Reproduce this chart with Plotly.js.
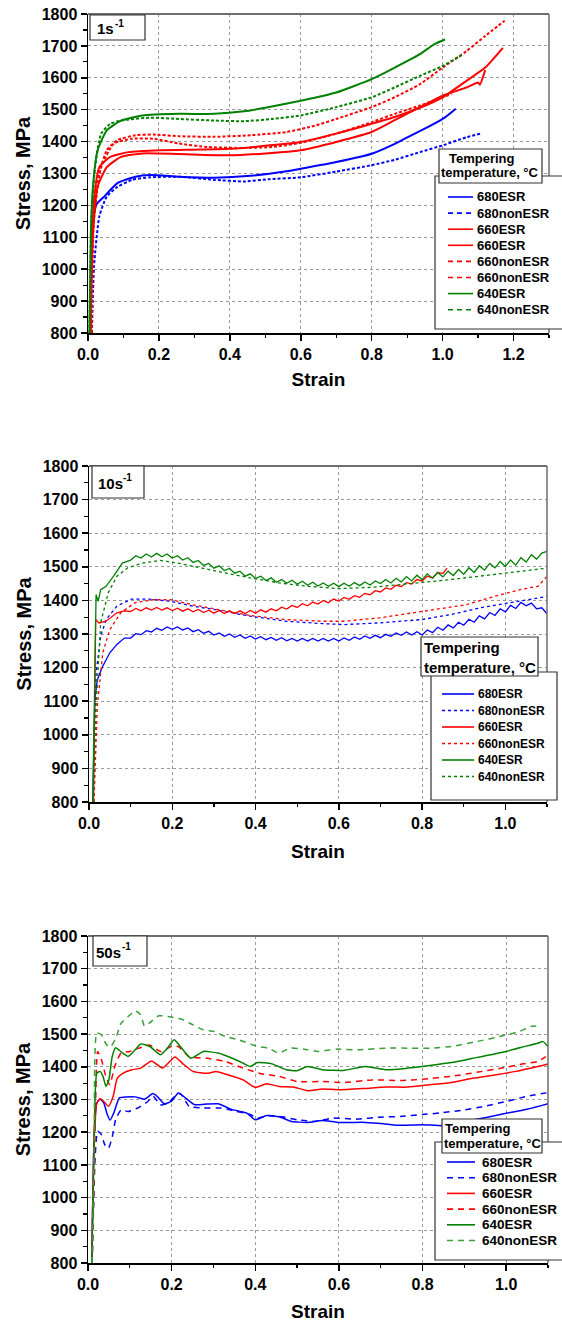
<!DOCTYPE html>
<html><head><meta charset="utf-8">
<script src="https://cdn.plot.ly/plotly-3.0.1.min.js"></script>
<style>html,body{margin:0;padding:0;background:#fff}#chart{width:562px;height:1323px}</style>
</head><body><div id="chart"></div>
<script>
// ================= DATA =================
// ---- Panel 1: strain rate 1 s^-1 ----
const names1 = ['680ESR','680nonESR','660ESR','660ESR','660nonESR','660nonESR','640ESR','640nonESR'];
const strain1_680ESR = [0.007,0.014,0.025,0.043,0.083,0.134,0.175,0.256,0.357,0.459,0.56,0.6,0.7,0.8,0.865,0.9,0.966,1.007,1.037];
const stress1_680ESR = [800,1163,1205,1225,1270,1290,1295,1290,1287,1293,1307,1315,1336,1362,1393,1413,1450,1476,1503];
const strain1_680non = [0.011,0.017,0.032,0.053,0.083,0.124,0.175,0.256,0.357,0.44,0.51,0.6,0.7,0.8,0.865,0.936,1.0,1.068,1.107];
const stress1_680non = [800,1010,1166,1228,1258,1280,1288,1290,1280,1275,1282,1288,1306,1326,1343,1367,1388,1414,1425];
const strain1_660ESRa = [0.007,0.014,0.027,0.053,0.093,0.154,0.256,0.398,0.5,0.6,0.7,0.8,0.865,0.936,1.0,1.068,1.1,1.105,1.12];
const stress1_660ESRa = [800,1111,1258,1320,1352,1363,1361,1357,1363,1373,1399,1430,1467,1508,1544,1570,1585,1578,1624];
const strain1_660ESRb = [0.007,0.01,0.017,0.032,0.063,0.114,0.205,0.317,0.418,0.52,0.6,0.7,0.8,0.865,0.936,1.0,1.068,1.12,1.17];
const stress1_660ESRb = [800,1010,1218,1320,1352,1367,1373,1375,1378,1389,1399,1425,1456,1477,1506,1539,1591,1632,1694];
const strain1_660nonA = [0.01,0.014,0.032,0.053,0.083,0.134,0.185,0.256,0.357,0.459,0.56,0.64,0.7,0.8,0.865,0.936,1.0,1.068,1.12,1.175];
const stress1_660nonA = [800,1111,1300,1373,1405,1420,1422,1417,1415,1420,1430,1450,1471,1508,1539,1580,1632,1684,1731,1779];
const strain1_660nonB = [0.01,0.017,0.037,0.073,0.124,0.185,0.256,0.337,0.44,0.52,0.6,0.7,0.8,0.865,0.936,1.025];
const stress1_660nonB = [800,1166,1320,1394,1409,1409,1394,1383,1380,1383,1396,1425,1461,1487,1513,1549];
const strain1_640ESR = [0.004,0.008,0.014,0.027,0.053,0.093,0.154,0.256,0.357,0.44,0.5,0.6,0.7,0.8,0.865,0.936,0.976,1.007];
const stress1_640ESR = [800,1111,1259,1373,1435,1466,1482,1487,1487,1495,1506,1528,1554,1596,1632,1674,1705,1720];
const strain1_640non = [0.004,0.01,0.02,0.037,0.063,0.104,0.175,0.256,0.357,0.44,0.52,0.6,0.7,0.8,0.865,0.936,1.0,1.058];
const stress1_640non = [800,1166,1320,1425,1456,1468,1475,1471,1466,1464,1471,1482,1508,1539,1570,1606,1637,1674];

// ---- Panel 2: strain rate 10 s^-1 (serrated flow) ----
const names2 = ['680ESR','680nonESR','660ESR','660nonESR','640ESR','640nonESR'];
const strainGrid2 = [0.1,0.1125,0.125,0.1375,0.15,0.1625,0.175,0.1875,0.2,0.2125,0.225,0.2375,0.25,0.2625,0.275,0.2875,
  0.3,0.3125,0.325,0.3375,0.35,0.3625,0.375,0.3875,0.4,0.4125,0.425,0.4375,0.45,0.4625,0.475,0.4875,
  0.5,0.5125,0.525,0.5375,0.55,0.5625,0.575,0.5875,0.6,0.6125,0.625,0.6375,0.65,0.6625,0.675,0.6875,
  0.7,0.7125,0.725,0.7375,0.75,0.7625,0.775,0.7875,0.8,0.8125,0.825,0.8375,0.85,0.8625,0.875,0.8875,
  0.9,0.9125,0.925,0.9375,0.95,0.9625,0.975,0.9875,1.0,1.0125,1.025,1.0375,1.05,1.0625,1.075,1.0875,1.1];
const strain2_680ESR_rise = [0.009,0.014,0.02,0.033,0.05,0.067,0.085];
const stress2_680ESR_rise = [800,1105,1164,1204,1244,1269,1288];
const stress2_680ESR_serr = [1288,1301,1298,1310,1306,1317,1311,1321,1314,1321,1312,1318,1307,1313,1302,1308,
  1297,1303,1293,1300,1290,1297,1287,1294,1285,1292,1283,1290,1281,1289,1280,1287,
  1279,1287,1279,1287,1279,1287,1279,1287,1279,1288,1281,1291,1284,1294,1287,1296,
  1289,1299,1293,1303,1296,1306,1297,1307,1297,1312,1304,1320,1311,1327,1318,1335,
  1326,1344,1335,1354,1345,1364,1355,1375,1366,1385,1376,1394,1384,1392,1375,1378,1360];
const strain2_680non = [0.011,0.017,0.028,0.041,0.067,0.102,0.145,0.197,0.249,0.3,0.387,0.473,0.56,0.611,0.698,0.8,0.87,0.94,1.0,1.06,1.1];
const stress2_680non = [800,1184,1293,1343,1383,1404,1404,1397,1383,1373,1353,1338,1331,1328,1333,1343,1358,1378,1391,1404,1412];
const strain2_660ESR_rise = [0.011,0.016,0.024,0.041,0.067,0.085];
const stress2_660ESR_rise = [800,1343,1333,1338,1363,1369];
const stress2_660ESR_serr = [1367,1376,1369,1378,1371,1379,1371,1378,1370,1377,1368,1375,1366,1373,1364,1371,
  1362,1370,1361,1369,1361,1369,1361,1370,1362,1372,1365,1375,1369,1380,1374,1385,
  1379,1390,1384,1395,1389,1400,1393,1404,1398,1409,1403,1414,1409,1421,1417,1429,
  1425,1437,1433,1445,1441,1453,1449,1462,1458,1472,1467,1483,1480];
const strain2_660ESR_end = [0.86];
const stress2_660ESR_end = [1496];
const strain2_660non = [0.012,0.02,0.033,0.05,0.076,0.11,0.154,0.197,0.249,0.318,0.387,0.473,0.56,0.611,0.698,0.767,0.836,0.905,0.974,1.035,1.078,1.1];
const stress2_660non = [800,1085,1244,1313,1363,1393,1402,1402,1387,1370,1355,1343,1338,1338,1348,1361,1373,1387,1412,1432,1442,1471];
const strain2_640ESR_rise = [0.009,0.017,0.022,0.028,0.041,0.059,0.08];
const stress2_640ESR_rise = [800,1417,1397,1432,1442,1472,1511];
const stress2_640ESR_serr = [1520,1533,1526,1538,1529,1540,1530,1538,1526,1533,1520,1527,1513,1519,1504,1510,
  1496,1503,1489,1495,1481,1487,1472,1479,1465,1472,1459,1467,1454,1462,1451,1460,
  1448,1457,1445,1454,1443,1452,1442,1451,1441,1451,1442,1453,1444,1455,1446,1458,
  1450,1462,1452,1466,1455,1471,1458,1475,1462,1479,1466,1483,1470,1487,1474,1492,
  1478,1497,1483,1503,1490,1510,1497,1516,1501,1520,1505,1527,1514,1536,1523,1541,1546];
const strain2_640non = [0.01,0.017,0.028,0.046,0.067,0.093,0.128,0.171,0.214,0.266,0.318,0.387,0.456,0.525,0.6,0.68,0.75,0.8,0.862,0.931,1.0,1.06,1.1];
const stress2_640non = [800,1085,1333,1422,1472,1497,1511,1519,1511,1497,1484,1467,1452,1442,1435,1439,1447,1453,1461,1471,1481,1489,1496];

// ---- Panel 3: strain rate 50 s^-1 ----
const names3 = ['680ESR','680nonESR','660ESR','660nonESR','640ESR','640nonESR'];
const strain3_680ESR = [0.009,0.015,0.021,0.029,0.038,0.046,0.053,0.062,0.075,0.092,0.113,0.135,0.155,0.165,0.182,0.199,0.216,0.233,0.255,0.285,0.311,0.345,0.379,0.4,0.427,0.457,0.487,0.525,0.56,0.6,0.663,0.706,0.74,0.8,0.852,0.903,0.955,1.0,1.05,1.1];
const stress3_680ESR = [800,1197,1289,1301,1289,1254,1237,1260,1305,1308,1308,1301,1318,1310,1287,1294,1320,1305,1284,1286,1287,1269,1259,1238,1251,1247,1233,1230,1236,1230,1230,1226,1221,1223,1220,1233,1246,1258,1270,1287];
const strain3_680non = [0.01,0.017,0.023,0.032,0.04,0.049,0.058,0.066,0.079,0.096,0.122,0.143,0.156,0.173,0.19,0.208,0.221,0.242,0.276,0.319,0.354,0.388,0.405,0.431,0.465,0.5,0.543,0.585,0.645,0.697,0.747,0.8,0.843,0.894,0.946,1.0,1.05,1.1];
const stress3_680non = [800,1122,1203,1193,1162,1151,1186,1238,1268,1263,1276,1294,1310,1284,1287,1310,1318,1279,1274,1274,1264,1254,1243,1251,1247,1238,1233,1243,1240,1246,1248,1254,1259,1267,1279,1294,1310,1321];
const strain3_660ESR = [0.009,0.015,0.021,0.029,0.038,0.049,0.06,0.07,0.083,0.105,0.126,0.152,0.178,0.208,0.229,0.251,0.285,0.306,0.336,0.371,0.4,0.427,0.457,0.491,0.525,0.56,0.6,0.663,0.714,0.765,0.817,0.869,0.92,0.972,1.023,1.075,1.1];
const stress3_660ESR = [800,1197,1289,1302,1294,1279,1309,1365,1380,1391,1396,1418,1396,1430,1407,1386,1380,1386,1375,1360,1337,1348,1340,1338,1327,1332,1330,1334,1338,1338,1345,1352,1365,1375,1386,1401,1409];
const strain3_660non = [0.01,0.017,0.023,0.032,0.043,0.052,0.064,0.079,0.1,0.122,0.147,0.173,0.199,0.216,0.242,0.285,0.328,0.371,0.414,0.457,0.5,0.56,0.611,0.68,0.749,0.8,0.869,0.929,0.989,1.041,1.075,1.1];
const stress3_660non = [800,1197,1447,1422,1370,1345,1401,1442,1447,1457,1467,1447,1462,1462,1431,1426,1416,1396,1379,1371,1355,1355,1352,1360,1358,1362,1371,1383,1396,1409,1416,1436];
const strain3_640ESR = [0.009,0.015,0.021,0.029,0.036,0.043,0.05,0.058,0.066,0.083,0.096,0.113,0.126,0.148,0.173,0.19,0.206,0.221,0.246,0.276,0.311,0.345,0.371,0.388,0.405,0.44,0.474,0.5,0.525,0.56,0.611,0.663,0.714,0.765,0.817,0.869,0.92,1.0,1.05,1.075,1.088,1.1];
const stress3_640ESR = [800,1197,1380,1386,1370,1340,1360,1432,1458,1442,1432,1452,1470,1462,1437,1457,1483,1462,1426,1447,1442,1426,1411,1401,1413,1409,1391,1388,1401,1391,1389,1401,1391,1396,1404,1413,1426,1447,1464,1472,1477,1462];
const strain3_640non = [0.01,0.015,0.021,0.032,0.043,0.053,0.066,0.079,0.096,0.113,0.126,0.135,0.148,0.169,0.199,0.225,0.251,0.276,0.302,0.328,0.362,0.405,0.431,0.457,0.483,0.517,0.551,0.594,0.645,0.714,0.774,0.817,0.869,0.929,0.989,1.032,1.058,1.075];
const stress3_640non = [800,1197,1503,1498,1470,1460,1486,1533,1554,1571,1559,1525,1535,1556,1552,1545,1528,1513,1508,1493,1482,1462,1457,1442,1457,1454,1447,1454,1452,1457,1457,1457,1462,1477,1494,1508,1523,1525];

const stressTicks = [800,900,1000,1100,1200,1300,1400,1500,1600,1700,1800];
const legendTitleLines = ['Tempering', 'temperature, °C'];

// ================= STYLE / LAYOUT =================
const W = 562, H = 1323;
const px = v => v / W;
const py = v => 1 - v / H;
const FONT = 'Liberation Sans, Arial, Helvetica, sans-serif';
const BLUE = '#0000ff', RED = '#ff0000', GREEN = '#008000', LGREEN = '#3aa03a';

const panels = [
  { xDom:[88,549], yDom:[14,333], xRange:[0,1.3], xStandoff:11,
    rateMain:'1s', rateBox:[90,15,145,40], rateSplitX:114,
    series:[[strain1_680ESR,stress1_680ESR],[strain1_680non,stress1_680non],[strain1_660ESRa,stress1_660ESRa],[strain1_660ESRb,stress1_660ESRb],
            [strain1_660nonA,stress1_660nonA],[strain1_660nonB,stress1_660nonB],[strain1_640ESR,stress1_640ESR],[strain1_640non,stress1_640non]],
    names:names1, colors:[BLUE,BLUE,RED,RED,RED,RED,GREEN,GREEN],
    dashes:['solid','3px,2px','solid','solid','3px,2px','3px,2px','solid','3px,2px'], width:2, shape:'spline',
    legBox:[435,176,580,329], titleBox:[439,149,542,183], titleFont:13, titleLineX:[449,441], titleLineY:[158,173],
    legRow0:197, legStep:16.1, legLine:[448,473], legText:477, legFont:13, legDashes:['solid','5px,4px','solid','solid','5px,4px','5px,4px','solid','5px,4px'] },
  { xDom:[89,547], yDom:[466,802], xRange:[0,1.1], xStandoff:14,
    rateMain:'10s', rateBox:[92,466,144,498], rateSplitX:123,
    series:[[strain2_680ESR_rise.concat(strainGrid2), stress2_680ESR_rise.concat(stress2_680ESR_serr)],
            [strain2_680non,stress2_680non],
            [strain2_660ESR_rise.concat(strainGrid2.slice(0, stress2_660ESR_serr.length), strain2_660ESR_end),
             stress2_660ESR_rise.concat(stress2_660ESR_serr, stress2_660ESR_end)],
            [strain2_660non,stress2_660non],
            [strain2_640ESR_rise.concat(strainGrid2), stress2_640ESR_rise.concat(stress2_640ESR_serr)],
            [strain2_640non,stress2_640non]],
    names:names2, colors:[BLUE,BLUE,RED,RED,GREEN,GREEN],
    dashes:['solid','dot','solid','dot','solid','dot'], width:1.3, shape:'linear',
    legBox:[431,672,557,800], titleBox:[421,637,538,676], titleFont:15, titleLineX:[424,424], titleLineY:[647,667],
    legRow0:694, legStep:16.5, legLine:[442,474], legText:478, legFont:12, legDashes:['solid','dot','solid','dot','solid','dot'] },
  { xDom:[88,548], yDom:[936,1263], xRange:[0,1.1], xStandoff:13,
    rateMain:'50s', rateBox:[93,936,147,966], rateSplitX:121,
    series:[[strain3_680ESR,stress3_680ESR],[strain3_680non,stress3_680non],[strain3_660ESR,stress3_660ESR],[strain3_660non,stress3_660non],
            [strain3_640ESR,stress3_640ESR],[strain3_640non,stress3_640non]],
    names:names3, colors:[BLUE,BLUE,RED,RED,GREEN,LGREEN],
    dashes:['solid','6px,5px','solid','6px,5px','solid','6px,5px'], width:1.5, shape:'spline',
    legBox:[435,1142,580,1260], titleBox:[442,1119,542,1153], titleFont:13, titleLineX:[445,444], titleLineY:[1128,1143],
    legRow0:1162, legStep:15.7, legLine:[447,475], legText:482, legFont:13.5, legDashes:['solid','6px,5px','solid','6px,5px','solid','6px,5px'] }
];

const traces = [], shapes = [], annotations = [];
const layout = {
  width: W, height: H, margin:{l:0,r:0,t:0,b:0}, paper_bgcolor:'#fff', plot_bgcolor:'#fff',
  showlegend:false, font:{family:FONT, color:'#000'}
};
const txt = (x, y, text, size, xanchor) => ({xref:'paper', yref:'paper', x:px(x), y:py(y), xanchor:xanchor || 'left', yanchor:'middle',
  showarrow:false, borderpad:0, borderwidth:0, text:text, font:{family:FONT, size:size, weight:'bold', color:'#000'}});

panels.forEach((p, i) => {
  const sfx = i === 0 ? '' : String(i + 1);
  const xa = 'x' + sfx, ya = 'y' + sfx;
  p.series.forEach((s, k) => {
    traces.push({ type:'scatter', mode:'lines', x:s[0], y:s[1], name:p.names[k], xaxis:xa, yaxis:ya,
      line:{color:p.colors[k], width:p.width, dash:p.dashes[k], shape:p.shape, smoothing:0.5}, hoverinfo:'skip' });
  });
  layout['xaxis' + sfx] = {
    domain:[px(p.xDom[0]), px(p.xDom[1])], anchor:ya, range:p.xRange, autorange:false,
    tick0:0, dtick:0.2, tickformat:'.1f', ticks:'outside', ticklen:6, tickwidth:1.5, tickcolor:'#000',
    showline:true, linecolor:'#000', linewidth:1.5, zeroline:false,
    showgrid:true, gridcolor:'#9a9a9a', griddash:'dot', gridwidth:1,
    minor:{dtick:0.1, ticks:'outside', ticklen:3.5, tickwidth:1.2, tickcolor:'#000', showgrid:false},
    tickfont:{family:FONT, size:16, weight:'bold', color:'#000'},
    title:{text:'Strain', font:{family:FONT, size:19, weight:'bold', color:'#000'}, standoff:p.xStandoff},
    automargin:false
  };
  layout['yaxis' + sfx] = {
    domain:[py(p.yDom[1]), py(p.yDom[0])], anchor:xa, range:[800,1800], autorange:false,
    tickvals:stressTicks, ticks:'outside', ticklen:6, tickwidth:1.5, tickcolor:'#000',
    showline:true, linecolor:'#000', linewidth:1.5, zeroline:false,
    showgrid:true, gridcolor:'#9a9a9a', griddash:'dot', gridwidth:1,
    minor:{dtick:50, ticks:'outside', ticklen:3.5, tickwidth:1.2, tickcolor:'#000', showgrid:false},
    tickfont:{family:FONT, size:16, weight:'bold', color:'#000'},
    title:{text:'Stress, MPa', font:{family:FONT, size:20, weight:'bold', color:'#000'}, standoff:5},
    automargin:false
  };
  // top & right frame (grey)
  shapes.push({type:'line', xref:xa+' domain', yref:ya+' domain', x0:0, x1:1, y0:1, y1:1, line:{color:'#6e6e6e', width:2}, layer:'above'});
  shapes.push({type:'line', xref:xa+' domain', yref:ya+' domain', x0:1, x1:1, y0:0, y1:1, line:{color:'#6e6e6e', width:1.5}, layer:'above'});
  // legend box
  shapes.push({type:'rect', xref:'paper', yref:'paper', x0:px(p.legBox[0]), x1:px(p.legBox[2]), y0:py(p.legBox[3]), y1:py(p.legBox[1]),
    fillcolor:'#fff', line:{color:'#333', width:1.2}, layer:'above'});
  // legend title box (two text lines)
  const tb = p.titleBox;
  shapes.push({type:'rect', xref:'paper', yref:'paper', x0:px(tb[0]), x1:px(tb[2]), y0:py(tb[3]), y1:py(tb[1]),
    fillcolor:'#fff', line:{color:'#333', width:1.2}, layer:'above'});
  legendTitleLines.forEach((ln, j) => annotations.push(txt(p.titleLineX[j], p.titleLineY[j], ln, p.titleFont)));
  // strain-rate box: main text + raised exponent
  const rb = p.rateBox, cy = (rb[1] + rb[3]) / 2;
  shapes.push({type:'rect', xref:'paper', yref:'paper', x0:px(rb[0]), x1:px(rb[2]), y0:py(rb[3]), y1:py(rb[1]),
    fillcolor:'#fff', line:{color:'#333', width:1.2}, layer:'above'});
  annotations.push(txt(p.rateSplitX, cy + 1.5, p.rateMain, 15, 'right'));
  annotations.push(txt(p.rateSplitX + 0.5, cy - 4.5, '-1', 10, 'left'));
  // legend entries
  p.names.forEach((nm, k) => {
    const yy = p.legRow0 + k * p.legStep;
    shapes.push({type:'line', xref:'paper', yref:'paper', x0:px(p.legLine[0]), x1:px(p.legLine[1]), y0:py(yy), y1:py(yy),
      line:{color:p.colors[k], width:1.6, dash:p.legDashes[k]}, layer:'above'});
    annotations.push(txt(p.legText, yy, nm, p.legFont));
  });
});
layout.shapes = shapes;
layout.annotations = annotations;

Plotly.newPlot('chart', traces, layout, {staticPlot:true, displayModeBar:false});
</script>
</body></html>
